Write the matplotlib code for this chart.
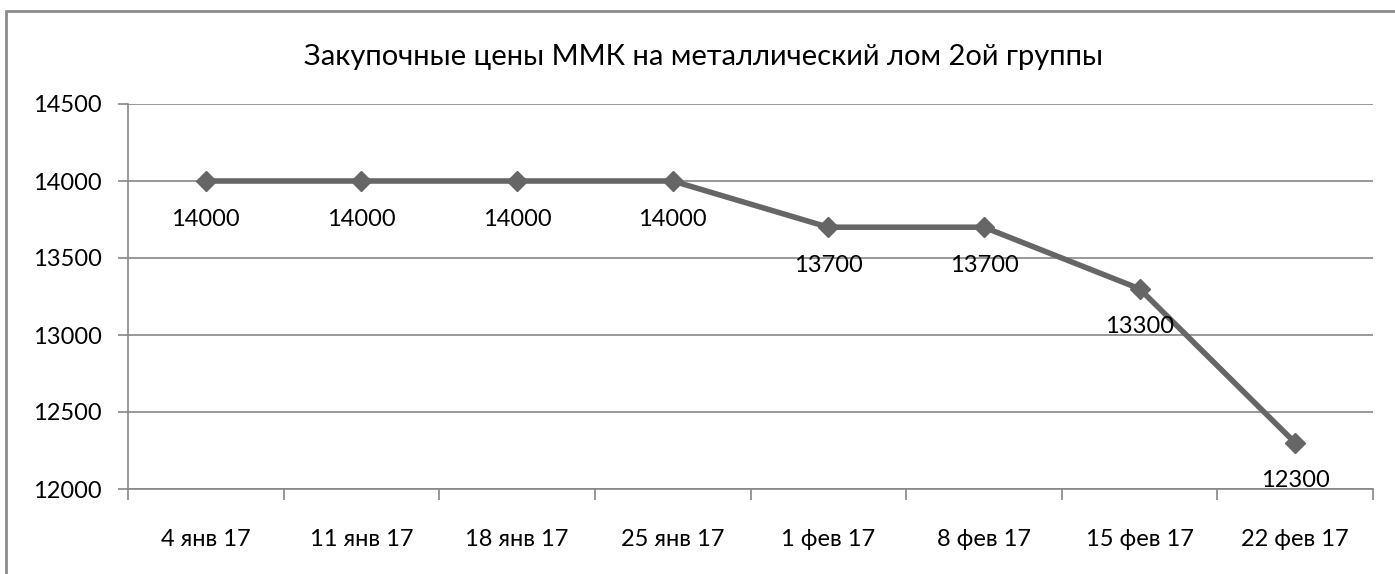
import matplotlib
matplotlib.use("Agg")
import matplotlib.pyplot as plt
from matplotlib.patches import Rectangle

categories = ["4 янв 17", "11 янв 17", "18 янв 17", "25 янв 17",
              "1 фев 17", "8 фев 17", "15 фев 17", "22 фев 17"]
prices = [14000, 14000, 14000, 14000, 13700, 13700, 13300, 12300]
y_ticks = [12000, 12500, 13000, 13500, 14000, 14500]
title = "Закупочные цены ММК на металлический лом 2ой группы"

plt.rcParams['font.family'] = ['Lato', 'DejaVu Sans']

W, H = 1395, 574
fig = plt.figure(figsize=(W / 100, H / 100), dpi=100)
fig.patch.set_facecolor("white")

# outer chart frame (cropped at right and bottom)
fig.patches.append(Rectangle((6 / W, -0.05), 1.1, (H - 11) / H + 0.05,
                             transform=fig.transFigure, fill=False,
                             edgecolor="#8c8c8c", linewidth=2))

ax = fig.add_axes([128 / W, (H - 489) / H, (1373 - 128) / W, (489 - 104) / H])

x = list(range(len(categories)))
ax.plot(x, prices, color="#666666", linewidth=4, marker="D", markersize=10,
        markerfacecolor="#666666", markeredgecolor="#666666", zorder=3,
        solid_joinstyle="round")

for xi, v in zip(x, prices):
    ax.annotate(str(v), (xi, v), xytext=(0, -38), textcoords="offset pixels",
                ha="center", va="center", fontsize=17, color="black", zorder=4)

ax.set_xlim(-0.5, len(categories) - 0.5)
ax.set_ylim(12000, 14500)
ax.set_yticks(y_ticks)
ax.set_yticklabels([str(t) for t in y_ticks], fontsize=17)
ax.yaxis.grid(True, color="#868686", linewidth=1.2)
ax.set_axisbelow(True)

ax.set_xticks(x)
ax.set_xticklabels(categories, fontsize=17)
ax.set_xticks([i - 0.5 for i in range(len(categories) + 1)], minor=True)
ax.tick_params(axis="x", which="major", length=0, pad=29)
ax.tick_params(axis="x", which="minor", length=8, color="#868686", width=1.2)
ax.tick_params(axis="y", length=7, color="#868686", width=1.2, pad=12)

for s in ["top", "right"]:
    ax.spines[s].set_visible(False)
for s in ["left", "bottom"]:
    ax.spines[s].set_color("#868686")
    ax.spines[s].set_linewidth(1.2)

fig.text((302 + 1105) / 2 / W, (H - 57) / H, title, ha="center", va="center",
         fontsize=21, color="black")

fig.savefig("out.png", dpi=100, facecolor="white")
